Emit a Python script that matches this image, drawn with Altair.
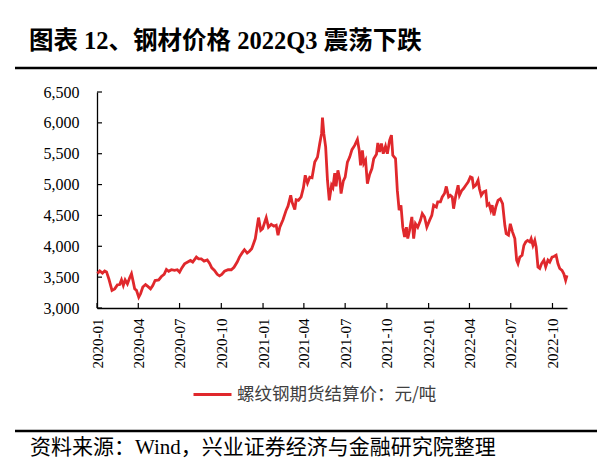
import altair as alt
import pandas as pd

# ---------------- data ----------------
dates = [
    "2020-01-02", "2020-01-07", "2020-01-13", "2020-01-18", "2020-01-22", "2020-01-27",
    "2020-02-03", "2020-02-09", "2020-02-15", "2020-02-20", "2020-02-24", "2020-02-28",
    "2020-03-03", "2020-03-08", "2020-03-13", "2020-03-17", "2020-03-21", "2020-03-24",
    "2020-03-28", "2020-04-02", "2020-04-06", "2020-04-11", "2020-04-17", "2020-04-22",
    "2020-04-28", "2020-05-03", "2020-05-08", "2020-05-16", "2020-05-22", "2020-05-28",
    "2020-06-02", "2020-06-07", "2020-06-13", "2020-06-20", "2020-06-26", "2020-07-01",
    "2020-07-06", "2020-07-12", "2020-07-19", "2020-07-25", "2020-07-30", "2020-08-07",
    "2020-08-12", "2020-08-18", "2020-08-24", "2020-08-31", "2020-09-05", "2020-09-10",
    "2020-09-16", "2020-09-22", "2020-09-27", "2020-10-02", "2020-10-08", "2020-10-16",
    "2020-10-23", "2020-10-29", "2020-11-05", "2020-11-10", "2020-11-17", "2020-11-21",
    "2020-11-27", "2020-12-02", "2020-12-07", "2020-12-11", "2020-12-15", "2020-12-22",
    "2020-12-27", "2020-12-31", "2021-01-08", "2021-01-13", "2021-01-19", "2021-01-25",
    "2021-01-30", "2021-02-03", "2021-02-07", "2021-02-14", "2021-02-21", "2021-02-25",
    "2021-03-03", "2021-03-06", "2021-03-12", "2021-03-15", "2021-03-20", "2021-03-26",
    "2021-03-31", "2021-04-04", "2021-04-09", "2021-04-14", "2021-04-19", "2021-04-25",
    "2021-05-01", "2021-05-06", "2021-05-10", "2021-05-12", "2021-05-15", "2021-05-19",
    "2021-05-23", "2021-05-27", "2021-06-01", "2021-06-04", "2021-06-08", "2021-06-11",
    "2021-06-15", "2021-06-19", "2021-06-22", "2021-06-27", "2021-07-01", "2021-07-06",
    "2021-07-11", "2021-07-16", "2021-07-22", "2021-07-28", "2021-08-01", "2021-08-04",
    "2021-08-08", "2021-08-11", "2021-08-15", "2021-08-19", "2021-08-24", "2021-08-29",
    "2021-09-02", "2021-09-08", "2021-09-11", "2021-09-15", "2021-09-19", "2021-09-23",
    "2021-09-28", "2021-10-02", "2021-10-07", "2021-10-11", "2021-10-14", "2021-10-20",
    "2021-10-24", "2021-10-28", "2021-11-01", "2021-11-05", "2021-11-09", "2021-11-13",
    "2021-11-16", "2021-11-20", "2021-11-25", "2021-11-29", "2021-12-03", "2021-12-08",
    "2021-12-14", "2021-12-18", "2021-12-23", "2021-12-28", "2022-01-03", "2022-01-08",
    "2022-01-12", "2022-01-18", "2022-01-21", "2022-01-27", "2022-01-31", "2022-02-05",
    "2022-02-09", "2022-02-14", "2022-02-18", "2022-02-22", "2022-02-25", "2022-03-02",
    "2022-03-07", "2022-03-10", "2022-03-15", "2022-03-19", "2022-03-24", "2022-03-29",
    "2022-04-03", "2022-04-07", "2022-04-10", "2022-04-15", "2022-04-20", "2022-04-23",
    "2022-04-27", "2022-05-02", "2022-05-07", "2022-05-10", "2022-05-14", "2022-05-18",
    "2022-05-21", "2022-05-25", "2022-05-29", "2022-06-03", "2022-06-08", "2022-06-13",
    "2022-06-18", "2022-06-21", "2022-06-26", "2022-06-30", "2022-07-05", "2022-07-10",
    "2022-07-14", "2022-07-17", "2022-07-21", "2022-07-26", "2022-07-30", "2022-08-03",
    "2022-08-07", "2022-08-12", "2022-08-15", "2022-08-19", "2022-08-23", "2022-08-26",
    "2022-08-30", "2022-09-03", "2022-09-07", "2022-09-12", "2022-09-16", "2022-09-21",
    "2022-09-25", "2022-09-30", "2022-10-04", "2022-10-09", "2022-10-13", "2022-10-17",
    "2022-10-22", "2022-10-26", "2022-10-30", "2022-11-02",
]
prices = [
    3560, 3600, 3565, 3600, 3585, 3475,
    3285, 3310, 3375, 3380, 3455, 3365,
    3455, 3390, 3490, 3555, 3420, 3310,
    3285, 3175, 3230, 3340, 3380, 3350,
    3310, 3365, 3445, 3455, 3510, 3545,
    3625, 3595, 3620, 3610, 3620, 3580,
    3650, 3715, 3745, 3770, 3745, 3825,
    3795, 3795, 3760, 3780, 3725, 3650,
    3610, 3545, 3520, 3545, 3595, 3620,
    3620, 3660, 3745, 3825, 3905, 3945,
    3890, 3920, 3960, 4040, 4125, 4465,
    4260, 4285, 4465, 4310, 4355, 4325,
    4340, 4180, 4310, 4430, 4585, 4650,
    4825, 4715, 4595, 4755, 4745, 4800,
    4950, 5150, 5025, 5120, 5110, 5365,
    5445, 5665, 5825, 6085, 5825, 5610,
    5070, 4745, 4990, 4950, 5185, 4970,
    5230, 5095, 4855, 5060, 5120, 5365,
    5445, 5565, 5635, 5730, 5555, 5310,
    5555, 5340, 5395, 5015, 5165, 5260,
    5420, 5490, 5675, 5530, 5665, 5500,
    5620, 5500, 5715, 5800, 5475, 5420,
    4905, 4585, 4665, 4310, 4150, 4310,
    4125, 4260, 4475, 4125, 4365, 4310,
    4420, 4530, 4475, 4310, 4420, 4500,
    4665, 4635, 4720, 4720, 4800, 4855,
    4970, 4800, 4825, 4800, 4610, 4825,
    4990, 4825, 4905, 4935, 4990, 5040,
    5125, 5110, 4960, 4990, 5070, 4935,
    4825, 4880, 4895, 4665, 4690, 4585,
    4665, 4500, 4635, 4745, 4770, 4690,
    4340, 4205, 4180, 4365, 4230, 4125,
    3775, 3720, 3825, 3855, 4015, 4070,
    4095, 4070, 4125, 4015, 4095, 3990,
    3665, 3640, 3720, 3775, 3665, 3775,
    3745, 3825, 3835, 3855, 3720, 3640,
    3610, 3555, 3450, 3530,
]
y_ticks = [3000, 3500, 4000, 4500, 5000, 5500, 6000, 6500]
x_tick_dates = [
    "2020-01-01", "2020-04-01", "2020-07-01", "2020-10-01",
    "2021-01-01", "2021-04-01", "2021-07-01", "2021-10-01",
    "2022-01-01", "2022-04-01", "2022-07-01", "2022-10-01",
]
x_domain = ["2020-01-01", "2022-11-02"]
series_name = "螺纹钢期货结算价：元/吨"
title_text = "图表 12、钢材价格 2022Q3 震荡下跌"
source_text = "资料来源：Wind，兴业证券经济与金融研究院整理"

# ---------------- tables ----------------
df = pd.DataFrame({"date": pd.to_datetime(dates), "price": prices, "series": series_name})
xt = pd.DataFrame({"date": pd.to_datetime(x_tick_dates)})
yt = pd.DataFrame({"price": y_ticks})
one = pd.DataFrame({"title": [title_text], "source": [source_text]})


def dt(s):
    return alt.DateTime(year=int(s[:4]), month=int(s[5:7]), date=int(s[8:10]))


W, H = 470, 216
RED = "#E0282C"
SERIF = "Liberation Serif, Noto Sans CJK SC"
CJK = "Noto Sans CJK SC"

x_scale = alt.Scale(domain=[dt(s) for s in x_domain])
y_scale = alt.Scale(domain=[3000, 6500], nice=False, zero=False)

x_axis = alt.Axis(
    values=[dt(s) for s in x_tick_dates],
    format="%Y-%m",
    labelAngle=-90,
    ticks=False,
    grid=False,
    title=None,
    labelFont="Liberation Serif",
    labelFontSize=15,
    labelColor="black",
    labelPadding=10,
    labelOverlap=False,
    domainColor="black",
    domainWidth=1.3,
)
y_axis = alt.Axis(
    values=y_ticks,
    format=",.0f",
    ticks=False,
    grid=False,
    title=None,
    labelFont="Liberation Serif",
    labelFontSize=16,
    labelColor="black",
    labelPadding=18,
    labelOverlap=False,
    domainColor="black",
    domainWidth=1.3,
)

line = alt.Chart(df).mark_line(strokeWidth=2.8, interpolate="linear").encode(
    x=alt.X("date:T", scale=x_scale, axis=x_axis),
    y=alt.Y("price:Q", scale=y_scale, axis=y_axis),
    color=alt.Color(
        "series:N",
        scale=alt.Scale(range=[RED]),
        legend=alt.Legend(
            orient="none",
            legendX=95,
            legendY=282,
            title=None,
            symbolType="stroke",
            symbolSize=1444,
            symbolStrokeWidth=3,
            labelFont=CJK,
            labelFontSize=17.5,
            labelColor="#404040",
            labelOffset=4,
            labelLimit=400,
            padding=0,
        ),
    ),
)

ytick = alt.Chart(yt).mark_rule(color="black", strokeWidth=1.2).encode(
    y=alt.Y("price:Q", scale=y_scale, axis=y_axis), x=alt.value(0), x2=alt.value(5)
)
xtick = alt.Chart(xt).mark_rule(color="black", strokeWidth=1.2).encode(
    x=alt.X("date:T", scale=x_scale, axis=x_axis), y=alt.value(H), y2=alt.value(H - 5)
)

title = alt.Chart(one).mark_text(
    align="left", baseline="middle", fontSize=24.5, fontWeight="bold", font=SERIF, color="black"
).encode(text="title:N", x=alt.value(-68), y=alt.value(-50))

top_rule = alt.Chart(one).mark_rule(color="black", strokeWidth=2.5).encode(
    x=alt.value(-82), x2=alt.value(500), y=alt.value(-24)
)
bottom_rule = alt.Chart(one).mark_rule(color="black", strokeWidth=2.5).encode(
    x=alt.value(-82), x2=alt.value(500), y=alt.value(339)
)
source = alt.Chart(one).mark_text(
    align="left", baseline="middle", fontSize=21, font=SERIF, color="black"
).encode(text="source:N", x=alt.value(-67), y=alt.value(356))

chart = (
    alt.layer(line, ytick, xtick, title, top_rule, bottom_rule, source)
    .properties(
        width=W,
        height=H,
        autosize=alt.AutoSizeParams(type="none"),
        padding={"left": 89, "top": 84, "right": 37, "bottom": 150},
        background="white",
    )
    .configure_view(stroke=None)
)

chart.save("out.html", embed_options={"renderer": "svg", "actions": False})
